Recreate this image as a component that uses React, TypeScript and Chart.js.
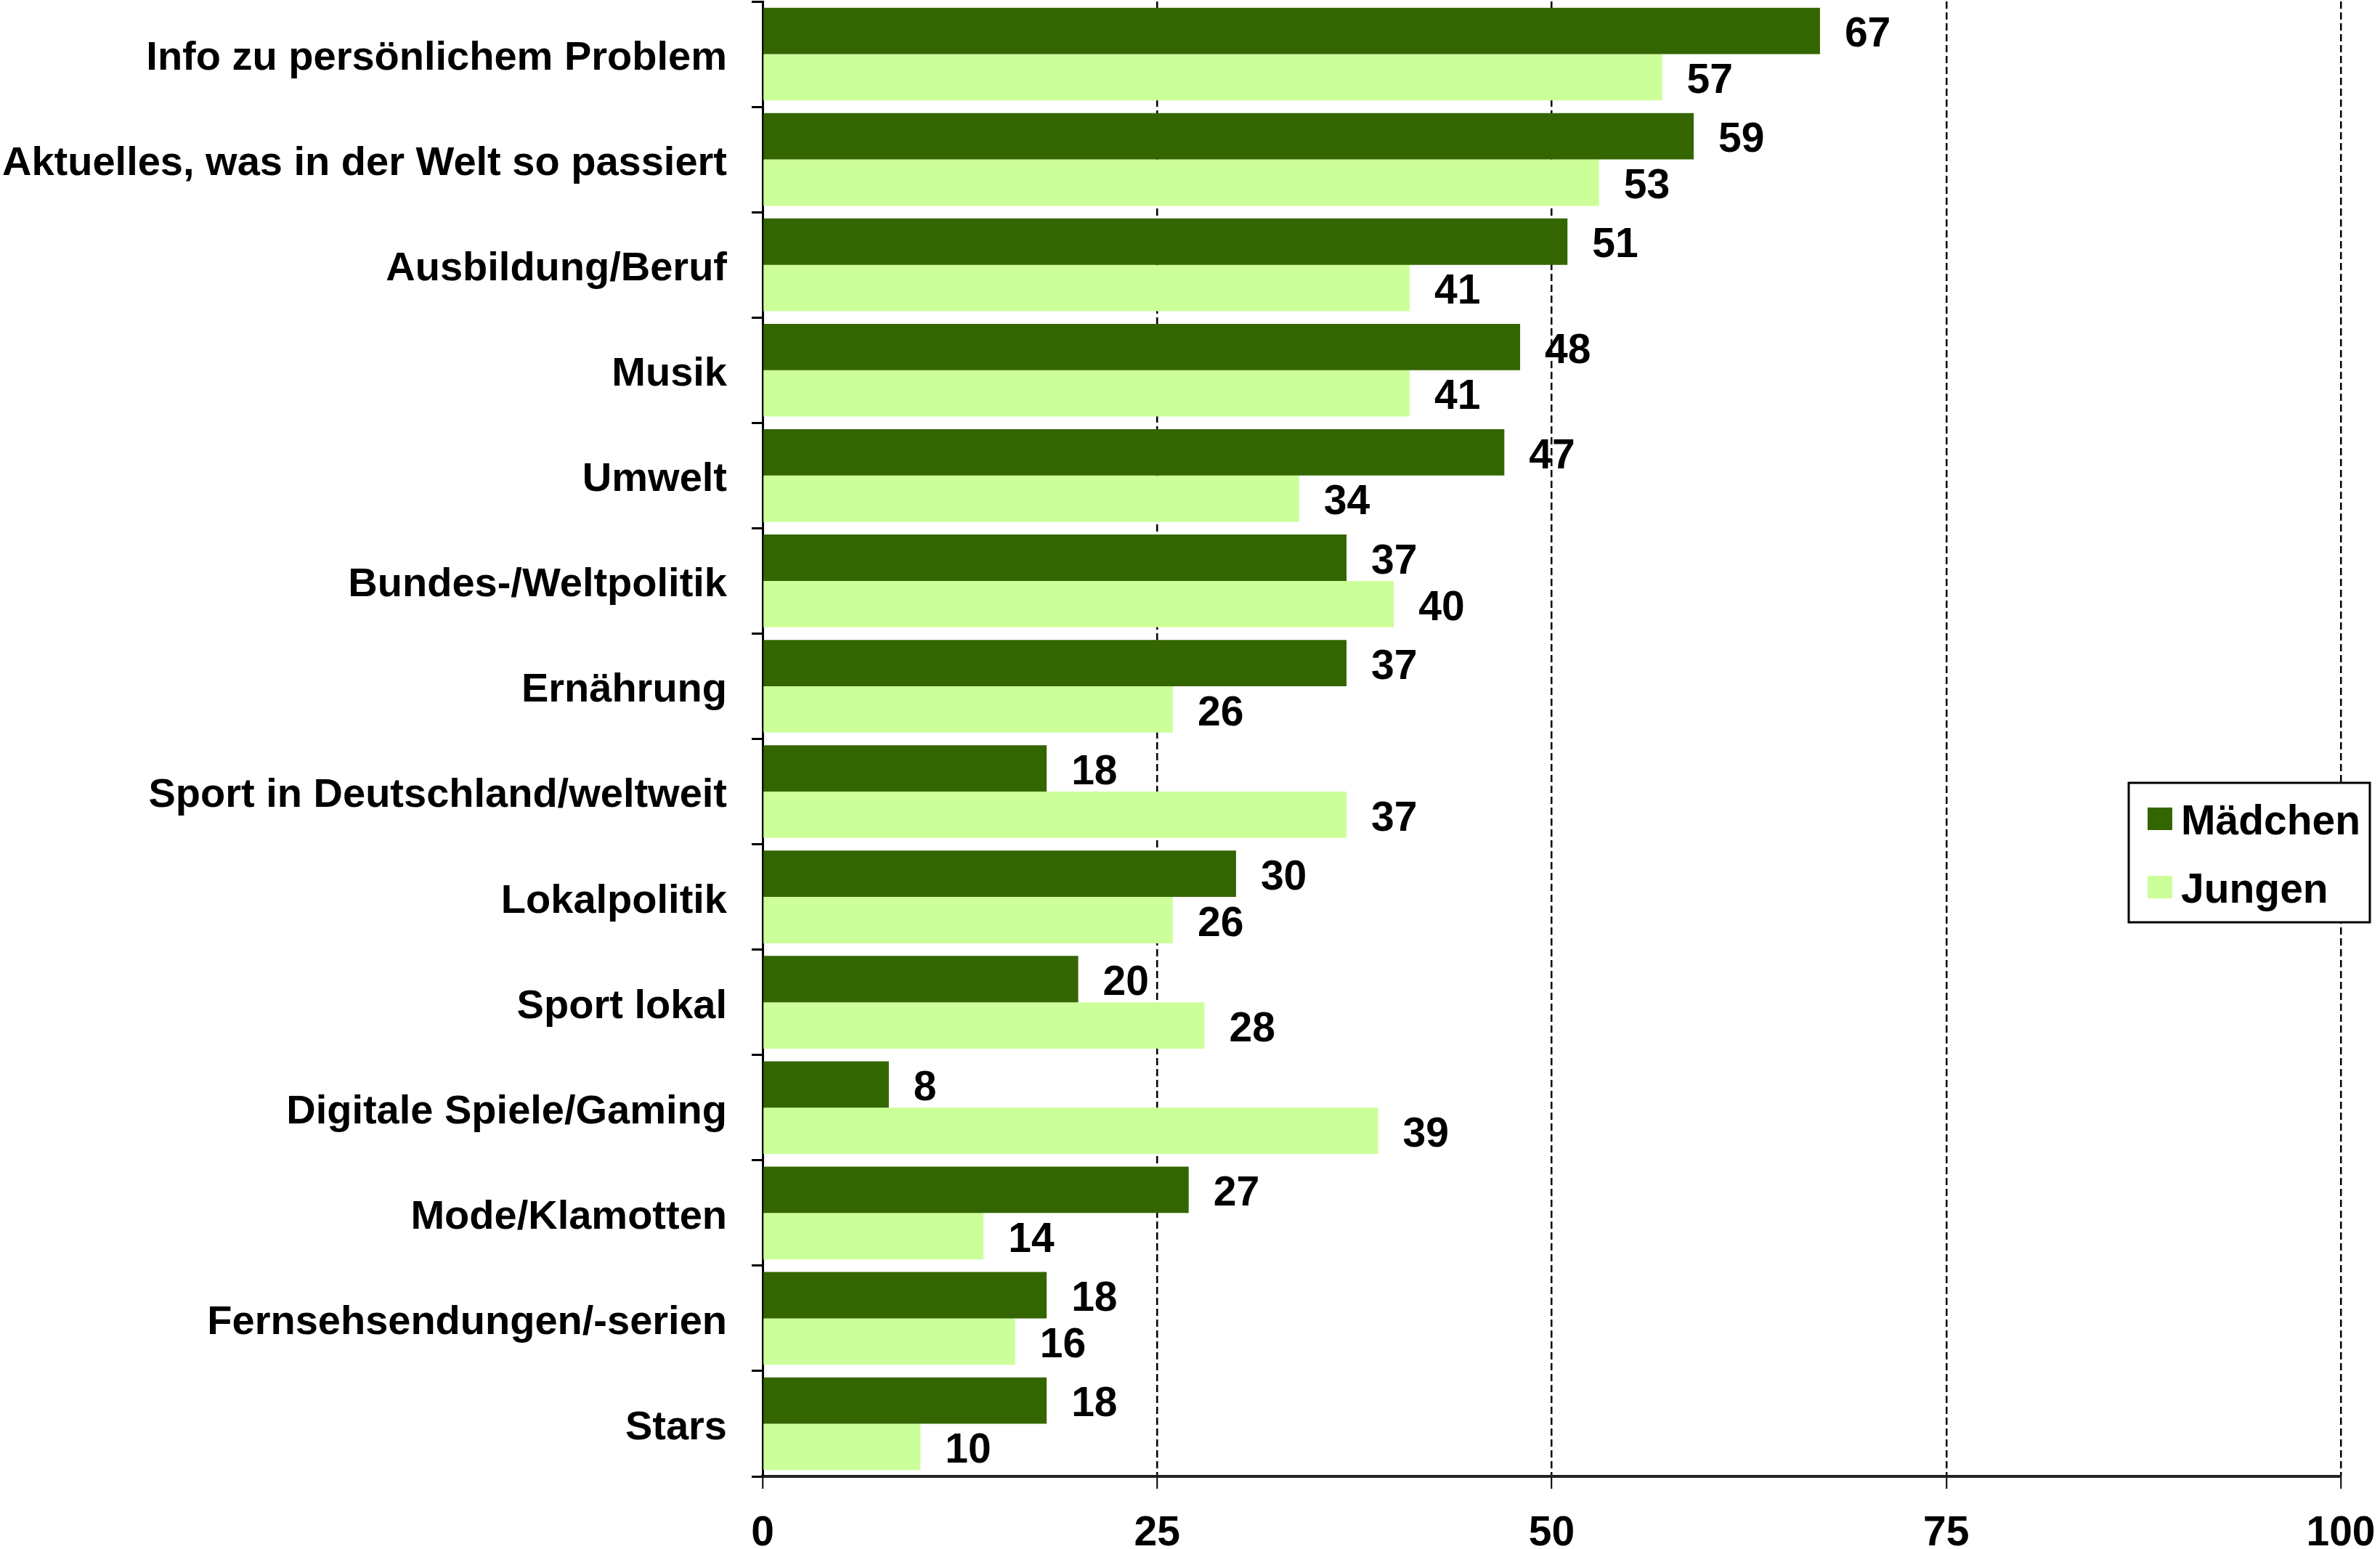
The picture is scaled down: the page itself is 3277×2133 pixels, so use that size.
import React, { useEffect, useRef } from "react";
import { Chart, registerables } from "chart.js";

Chart.register(...registerables);

const categories = [
  "Info zu persönlichem Problem",
  "Aktuelles, was in der Welt so passiert",
  "Ausbildung/Beruf",
  "Musik",
  "Umwelt",
  "Bundes-/Weltpolitik",
  "Ernährung",
  "Sport in Deutschland/weltweit",
  "Lokalpolitik",
  "Sport lokal",
  "Digitale Spiele/Gaming",
  "Mode/Klamotten",
  "Fernsehsendungen/-serien",
  "Stars",
];
const maedchen = [67, 59, 51, 48, 47, 37, 37, 18, 30, 20, 8, 27, 18, 18];
const jungen = [57, 53, 41, 41, 34, 40, 26, 37, 26, 28, 39, 14, 16, 10];
const seriesNames = ["Mädchen", "Jungen"];
const xTicks = [0, 25, 50, 75, 100];

const FONT = "'Liberation Sans', Arial, Helvetica, sans-serif";
const DARK = "#336600";
const LIGHT = "#CCFF99";

const valueLabels = {
  id: "valueLabels",
  afterDatasetsDraw(chart: any) {
    const ctx = chart.ctx;
    ctx.save();
    ctx.font = `bold 57px ${FONT}`;
    ctx.fillStyle = "#000";
    ctx.textAlign = "left";
    ctx.textBaseline = "middle";
    chart.data.datasets.forEach((ds: any, di: number) => {
      const meta = chart.getDatasetMeta(di);
      meta.data.forEach((bar: any, i: number) => {
        ctx.fillText(String(ds.data[i]), bar.x + 34, bar.y + 6);
      });
    });
    ctx.restore();
  },
};

const boxLegend = {
  id: "boxLegend",
  afterDraw(chart: any) {
    const ctx = chart.ctx;
    const area = chart.chartArea;
    const left = area.right - 292;
    const top = 1078;
    const w = 332;
    const h = 192;
    ctx.save();
    ctx.fillStyle = "#fff";
    ctx.fillRect(left, top, w, h);
    ctx.lineWidth = 3;
    ctx.strokeStyle = "#000";
    ctx.strokeRect(left, top, w, h);
    ctx.font = `bold 57px ${FONT}`;
    ctx.textAlign = "left";
    ctx.textBaseline = "middle";
    chart.data.datasets.forEach((ds: any, i: number) => {
      const cy = top + 50 + i * 94;
      ctx.fillStyle = ds.backgroundColor;
      ctx.fillRect(left + 26, cy - 16, 34, 31);
      ctx.fillStyle = "#000";
      ctx.fillText(ds.label, left + 72, cy + 5);
    });
    ctx.restore();
  },
};

export default function App() {
  const ref = useRef<HTMLCanvasElement>(null);
  useEffect(() => {
    document.body.style.margin = "0";
    const chart = new Chart(ref.current as HTMLCanvasElement, {
      type: "bar",
      data: {
        labels: categories,
        datasets: [
          { label: seriesNames[0], data: maedchen, backgroundColor: DARK, borderWidth: 0 },
          { label: seriesNames[1], data: jungen, backgroundColor: LIGHT, borderWidth: 0 },
        ],
      },
      options: {
        indexAxis: "y",
        animation: false,
        responsive: false,
        devicePixelRatio: 1,
        layout: { padding: { top: 2, right: 54, left: 0, bottom: 0 } },
        datasets: { bar: { categoryPercentage: 0.88, barPercentage: 1 } },
        plugins: { legend: { display: false }, tooltip: { enabled: false } },
        scales: {
          x: {
            min: 0,
            max: 100,
            afterBuildTicks: (scale: any) => {
              scale.ticks = xTicks.map((v) => ({ value: v }));
            },
            afterFit: (scale: any) => {
              scale.height = 100;
              scale.paddingLeft = 0;
              scale.paddingRight = 0;
            },
            ticks: {
              color: "#000",
              font: { family: FONT, size: 57, weight: "bold" },
              padding: 28,
              maxRotation: 0,
            },
            grid: {
              color: (c: any) => (c.tick && c.tick.value === 0 ? "rgba(0,0,0,0)" : "#000"),
              lineWidth: 2.5,
              tickColor: "#000",
              tickLength: 17,
              tickWidth: 2,
            },
            border: { display: true, color: "#222", width: 4, dash: [10, 5] },
          },
          y: {
            afterFit: (scale: any) => {
              scale.width = 1050;
              scale.paddingTop = 0;
              scale.paddingBottom = 0;
            },
            ticks: {
              color: "#000",
              font: { family: FONT, size: 56, weight: "bold" },
              padding: 34,
              labelOffset: 6,
            },
            grid: {
              offset: true,
              drawOnChartArea: false,
              drawTicks: true,
              tickLength: 15,
              tickWidth: 3,
              tickColor: "#000",
            },
            border: { display: true, color: "#000", width: 3 },
          },
        },
      },
      plugins: [valueLabels, boxLegend],
    } as any);
    return () => chart.destroy();
  }, []);
  return (
    <div style={{ width: 3277, height: 2133, background: "#fff" }}>
      <canvas ref={ref} width={3277} height={2133} style={{ width: 3277, height: 2133, display: "block" }} />
    </div>
  );
}
